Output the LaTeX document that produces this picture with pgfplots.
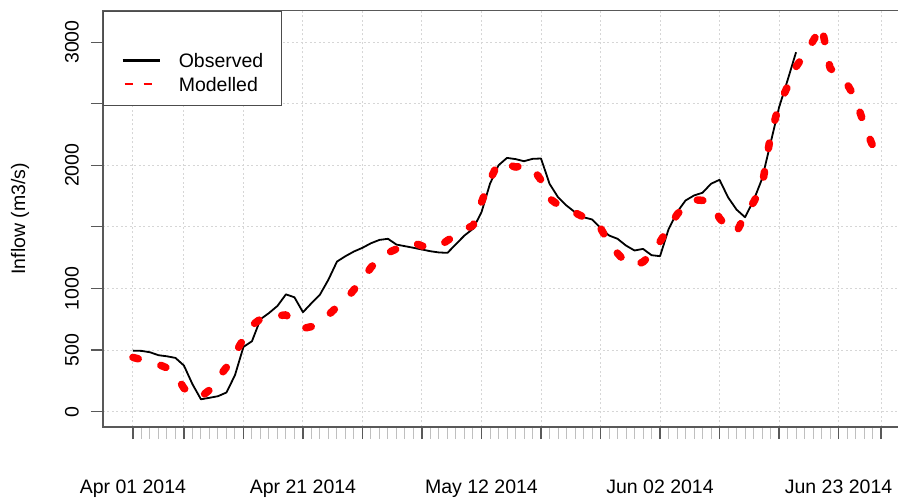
\documentclass[border=0pt]{standalone}
\usepackage{fontspec}
\setmainfont{Liberation Sans}
\usepackage{pgfplots}
\usepackage{pgfplotstable}
\pgfplotsset{compat=1.18}

% d = days since 2014-04-01
\pgfplotstableread{
d v
0 495
1 493
2 482
3 458
4 449
5 436
6 374
7 223
8 100
9 112
10 125
11 155
12 295
13 525
14 571
15 750
16 800
17 858
18 952
19 928
20 807
21 880
22 950
23 1072
24 1218
25 1262
26 1300
27 1330
28 1367
29 1394
30 1403
31 1356
32 1343
33 1330
34 1316
35 1302
36 1292
37 1289
38 1360
39 1430
40 1484
41 1619
42 1850
43 2000
44 2060
45 2050
46 2033
47 2052
48 2055
49 1850
50 1741
51 1673
52 1619
53 1578
54 1560
55 1492
56 1430
57 1403
58 1348
59 1308
60 1321
61 1270
62 1262
63 1480
64 1619
65 1714
66 1755
67 1777
68 1850
69 1882
70 1740
71 1640
72 1578
73 1714
74 1890
75 2180
76 2470
77 2690
78 2918
}\obs

\pgfplotstableread{
d v
0 440
1 422
2 400
3 383
4 355
5 300
6 190
7 130
8 120
9 175
10 270
11 360
12 470
13 590
14 700
15 752
16 770
17 778
18 785
19 725
20 675
21 690
22 730
23 785
24 850
25 905
26 990
27 1075
28 1170
29 1245
30 1290
31 1320
32 1350
33 1372
34 1345
35 1335
36 1340
37 1390
38 1430
39 1480
40 1510
41 1700
42 1880
43 2025
44 2010
45 1985
46 2000
47 1975
48 1880
49 1730
50 1680
51 1640
52 1615
53 1580
54 1540
55 1490
56 1370
57 1285
58 1210
59 1185
60 1215
61 1280
62 1380
63 1490
64 1600
65 1680
66 1720
67 1715
68 1690
69 1570
70 1490
71 1455
72 1600
73 1700
74 1830
75 2240
76 2490
77 2640
78 2800
79 2900
80 3010
81 3130
82 2790
83 2720
84 2660
85 2540
86 2330
87 2160
88 2010
}\model

\newcommand{\chartfont}{\fontsize{19.5}{23}\selectfont}

\begin{document}
\begin{tikzpicture}
\useasboundingbox (-103pt,-71pt) rectangle (795pt,427pt);
\begin{axis}[
  scale only axis,
  width=808pt, height=416.3pt,
  xmin=-3.52, xmax=91.52, ymin=-125, ymax=3255,
  axis line style={black!65, line width=1.2pt},
  tick align=outside,
  tick pos=left,
  xtick={0,6,13,20,27,34,41,48,55,62,69,76,83,88},
  xticklabels={Apr 01 2014,,,Apr 21 2014,,,May 12 2014,,,Jun 02 2014,,,Jun 23 2014,},
  minor xtick={0,...,88},
  ytick={0,500,...,3000},
  yticklabels={0,500,1000,,2000,,3000},
  /pgf/number format/assume math mode=true,
  major tick length=12pt, minor tick length=12pt,
  major tick style={black!65, line width=1.2pt},
  minor tick style={black!25, line width=1pt},
  grid=major,
  major grid style={black!16, line width=1pt, dash pattern=on 2pt off 2.5pt},
  tick label style={font=\chartfont},
  xticklabel style={anchor=north, inner sep=0pt},
  xticklabel shift=41pt,
  yticklabel style={rotate=90, anchor=south, inner sep=0pt},
  yticklabel shift=12pt,
  ylabel={Inflow (m3/s)},
  every axis y label/.style={at={(axis description cs:-0.1027,0.5)}, rotate=90, anchor=center, font=\chartfont},
  legend cell align=left,
  legend image code/.code={\draw[#1] (0pt,7pt) -- (37pt,7pt);},
  legend style={at={(axis description cs:0,1)}, anchor=north west,
    draw=black!70, line width=1.2pt, fill=white, font=\chartfont,
    inner xsep=18pt, inner ysep=11.6pt, row sep=0pt, column sep=18pt,
    nodes={inner sep=0pt, text height=21pt, text depth=2.7pt, anchor=base west}},
]
\addlegendimage{empty legend}
\addlegendentry{\phantom{X}}
\addlegendimage{black, line width=2.2pt}
\addlegendentry{Observed}
\addlegendimage{red, line width=1.6pt, dash pattern=on 0pt off 2pt on 8pt off 11pt on 8pt off 8pt}
\addlegendentry{Modelled}

\addplot[black, line width=1.8pt, line join=round, forget plot] table[x=d, y=v] {\obs};
\addplot[red, line width=7.5pt, line cap=round, line join=round, dash pattern=on 5.5pt off 23.5pt, forget plot] table[x=d, y=v] {\model};
\end{axis}
\end{tikzpicture}
\end{document}
